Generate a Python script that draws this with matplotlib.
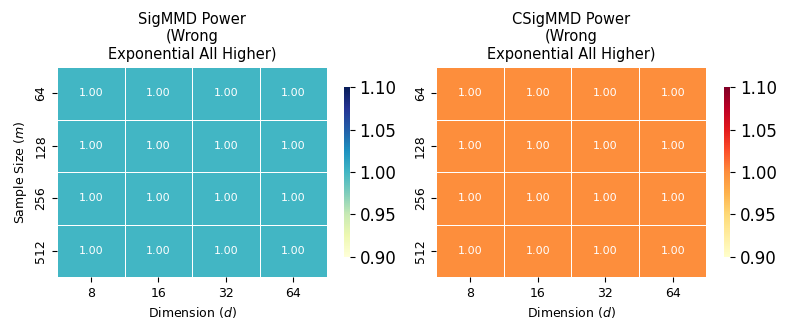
import numpy as np
import matplotlib
matplotlib.use("Agg")
import matplotlib.pyplot as plt
import seaborn as sns

dims = [8, 16, 32, 64]
sample_sizes = [64, 128, 256, 512]
sigmmd_power = [
    [1.00, 1.00, 1.00, 1.00],
    [1.00, 1.00, 1.00, 1.00],
    [1.00, 1.00, 1.00, 1.00],
    [1.00, 1.00, 1.00, 1.00],
]
csigmmd_power = [
    [1.00, 1.00, 1.00, 1.00],
    [1.00, 1.00, 1.00, 1.00],
    [1.00, 1.00, 1.00, 1.00],
    [1.00, 1.00, 1.00, 1.00],
]
titles = ["SigMMD Power\n(Wrong\nExponential All Higher)",
          "CSigMMD Power\n(Wrong\nExponential All Higher)"]
cmaps = ["YlGnBu", "YlOrRd"]

fig = plt.figure(figsize=(7.92, 3.35), dpi=100)

panels = [
    ([0.072, 0.173, 0.341, 0.627], [0.434, 0.233, 0.0076, 0.507]),
    ([0.551, 0.173, 0.341, 0.627], [0.914, 0.233, 0.0076, 0.507]),
]

for i, data in enumerate([sigmmd_power, csigmmd_power]):
    ax = fig.add_axes(panels[i][0])
    cax = fig.add_axes(panels[i][1])
    sns.heatmap(np.array(data), ax=ax, cbar_ax=cax, cmap=cmaps[i],
                annot=True, fmt=".2f", annot_kws={"fontsize": 8},
                linewidths=0.6, linecolor="white",
                vmin=0.9, vmax=1.1,
                xticklabels=dims, yticklabels=sample_sizes)
    ax.set_title(titles[i], fontsize=10.5)
    ax.set_xlabel("Dimension ($d$)", fontsize=9)
    if i == 0:
        ax.set_ylabel("Sample Size ($m$)", fontsize=9)
    ax.tick_params(axis="both", labelsize=9)
    cax.tick_params(labelsize=12)
    cax.set_yticks([0.90, 0.95, 1.00, 1.05, 1.10])
    cax.set_yticklabels(["0.90", "0.95", "1.00", "1.05", "1.10"])

fig.savefig("out.png", dpi=100)
